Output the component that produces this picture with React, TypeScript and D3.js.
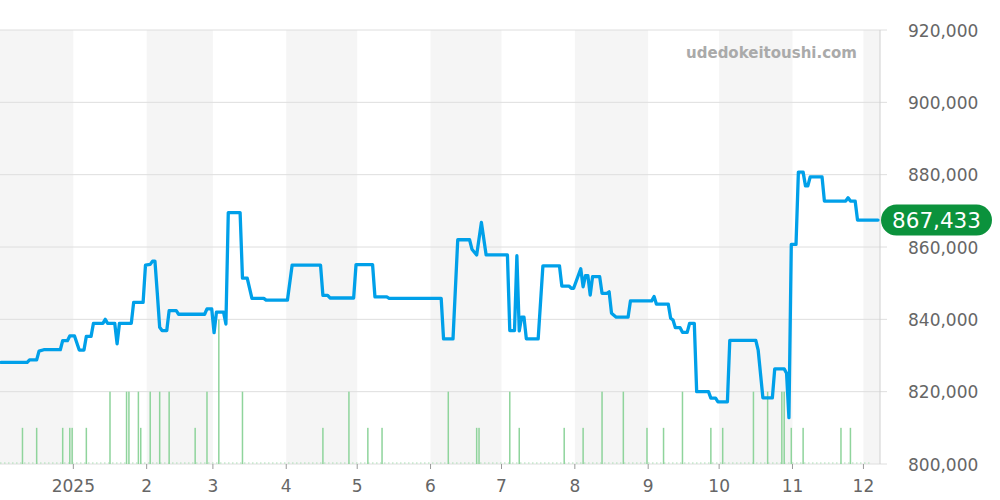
import React from "react";
import * as d3 from "d3";

const priceDates: string[] = [
  "2024-12-01","2024-12-12","2024-12-13","2024-12-16","2024-12-17","2024-12-19","2024-12-26","2024-12-27","2024-12-29","2024-12-30",
  "2025-01-01","2025-01-03","2025-01-05","2025-01-06","2025-01-08","2025-01-09","2025-01-13","2025-01-14","2025-01-15","2025-01-18",
  "2025-01-19","2025-01-20","2025-01-25","2025-01-26","2025-01-30","2025-01-31","2025-02-02","2025-02-03","2025-02-04","2025-02-05",
  "2025-02-06","2025-02-07","2025-02-09","2025-02-10","2025-02-13","2025-02-14","2025-02-25","2025-02-26","2025-02-28","2025-03-01",
  "2025-03-02","2025-03-05","2025-03-06","2025-03-07","2025-03-12","2025-03-13","2025-03-15","2025-03-17","2025-03-22","2025-03-23",
  "2025-04-01","2025-04-03","2025-04-15","2025-04-16","2025-04-18","2025-04-19","2025-04-29","2025-04-30","2025-05-07","2025-05-08",
  "2025-05-13","2025-05-14","2025-06-05","2025-06-06","2025-06-10","2025-06-12","2025-06-17","2025-06-18","2025-06-20","2025-06-22",
  "2025-06-24","2025-07-03","2025-07-04","2025-07-06","2025-07-07","2025-07-08","2025-07-09","2025-07-10","2025-07-11","2025-07-16",
  "2025-07-18","2025-07-25","2025-07-26","2025-07-29","2025-07-30","2025-07-31","2025-08-03","2025-08-04","2025-08-05","2025-08-06",
  "2025-08-07","2025-08-08","2025-08-11","2025-08-12","2025-08-14","2025-08-15","2025-08-16","2025-08-18","2025-08-23","2025-08-24",
  "2025-09-02","2025-09-03","2025-09-04","2025-09-09","2025-09-10","2025-09-11","2025-09-12","2025-09-14","2025-09-15","2025-09-17",
  "2025-09-18","2025-09-20","2025-09-21","2025-09-26","2025-09-27","2025-09-29","2025-09-30","2025-10-04","2025-10-05","2025-10-16",
  "2025-10-17","2025-10-19","2025-10-23","2025-10-24","2025-10-28","2025-10-29","2025-10-30","2025-10-31","2025-11-02","2025-11-03",
  "2025-11-05","2025-11-06","2025-11-07","2025-11-08","2025-11-13","2025-11-14","2025-11-23","2025-11-24","2025-11-25","2025-11-27",
  "2025-11-28","2025-12-07",
];

const priceValues: number[] = [
  828100,828100,828800,828800,831200,831600,831600,834100,834100,835400,
  835400,831500,831500,835300,835300,838900,838900,840000,838900,838900,
  833200,838900,838900,844700,844700,855000,855200,856100,856100,847200,
  837800,836900,836900,842400,842400,841400,841400,842900,842900,836300,
  842000,842000,838700,869500,869500,851400,851400,845800,845800,845300,
  845300,855000,855000,846600,846600,845900,845900,855100,855100,846200,
  846200,845800,845800,834600,834600,862000,862000,859400,857800,866800,
  857800,857800,836900,836900,857600,836800,840600,840600,834600,834600,
  854800,854800,849200,849200,848600,848600,854000,849000,852100,852100,
  846700,851800,851800,847200,847200,847600,841700,840600,840600,845100,
  845100,846300,844200,844200,840300,839800,837700,837700,836400,836400,
  838900,838900,820000,820000,818200,818200,817200,817200,834200,834200,
  831500,818300,818300,826300,826300,825100,812800,860700,860700,880700,
  880700,876900,876900,879400,879400,872700,872700,873600,872700,872700,
  867433,867433,
];

const volumeDates: string[] = [
  "2024-12-10","2024-12-16","2024-12-27","2024-12-30","2024-12-31","2025-01-06","2025-01-16","2025-01-23","2025-01-24","2025-01-28",
  "2025-01-29","2025-02-02","2025-02-06","2025-02-10","2025-02-21","2025-02-26","2025-03-03","2025-03-13","2025-04-16","2025-04-27",
  "2025-05-05","2025-05-11","2025-06-08","2025-06-20","2025-06-21","2025-07-04","2025-07-08","2025-07-27","2025-08-04","2025-08-12",
  "2025-08-21","2025-08-31","2025-09-07","2025-09-15","2025-09-27","2025-10-02","2025-10-15","2025-10-21","2025-10-27","2025-10-28",
  "2025-10-31","2025-11-05","2025-11-21","2025-11-25",
];
const volumeValues: number[] = [
  1,1,1,1,1,1,2,2,2,2,
  1,2,2,2,1,2,4,2,1,2,
  1,1,2,1,1,2,1,1,1,2,
  2,1,1,2,1,1,2,2,2,2,
  1,1,1,1,
];

const yTicks: number[] = [800000, 820000, 840000, 860000, 880000, 900000, 920000];
const monthTicks: string[] = ["2025-01-01","2025-02-01","2025-03-01","2025-04-01","2025-05-01","2025-06-01","2025-07-01","2025-08-01","2025-09-01","2025-10-01","2025-11-01","2025-12-01"];
const monthLabels: string[] = ["2025","2","3","4","5","6","7","8","9","10","11","12"];
const bandStarts: string[] = ["2024-12-01","2025-02-01","2025-04-01","2025-06-01","2025-08-01","2025-10-01","2025-12-01"];
const bandEnds: string[] = ["2025-01-01","2025-03-01","2025-05-01","2025-07-01","2025-09-01","2025-11-01","2025-12-08"];
const lastLabel = "867,433";
const watermark = "udedokeitoushi.com";

const parse = d3.timeParse("%Y-%m-%d");
// data points are plotted at midday of their date
const parseMid = (s: string) => d3.timeHour.offset(parse(s)!, 12);

export default function App() {
  const W = 1000, H = 500;
  const left = 0, right = 880, top = 30, bottom = 464;
  const x = d3.scaleTime().domain([parse("2024-12-01")!, parse("2025-12-08")!]).range([left, right]);
  const y = d3.scaleLinear().domain([800000, 920000]).range([bottom, top]);
  const yv = d3.scaleLinear().domain([0, 12]).range([bottom, top]);

  const pts = priceDates.map((d, i) => ({ d: parseMid(d), v: priceValues[i] }));
  const line = d3.line<{ d: Date; v: number }>().x(p => Math.min(x(p.d), right - 2)).y(p => y(p.v));
  const fmt = d3.format(",");
  const font = "'DejaVu Sans', sans-serif";
  const lastY = y(priceValues[priceValues.length - 1]);

  return (
    <svg width={W} height={H} style={{ position: "absolute", left: 0, top: 0, background: "#fff" }} fontFamily={font}>
      {bandStarts.map((s, i) => (
        <rect key={"b" + i} x={x(parse(s)!)} y={top} width={x(parse(bandEnds[i])!) - x(parse(s)!)} height={bottom - top} fill="#f5f5f5" />
      ))}
      {yTicks.map(t => (
        <line key={"g" + t} x1={left} x2={right + 7} y1={y(t)} y2={y(t)} stroke="#dedede" strokeWidth={1} />
      ))}
      <line x1={right} x2={right} y1={top} y2={bottom} stroke="#d0d0d0" strokeWidth={1} />
      {monthTicks.map((m, i) => (
        <g key={"m" + i}>
          <line x1={x(parse(m)!)} x2={x(parse(m)!)} y1={bottom} y2={bottom + 5} stroke="#999" strokeWidth={1} />
          <text x={x(parse(m)!)} y={492} textAnchor="middle" fontSize={17} fill="#666">{monthLabels[i]}</text>
        </g>
      ))}
      {yTicks.map(t => (
        <text key={"yl" + t} x={908} y={y(t) + 6.5} fontSize={17} fill="#666">{fmt(t)}</text>
      ))}
      <line x1={left} x2={872} y1={bottom - 1} y2={bottom - 1} stroke="#a8dfb2" strokeWidth={1} strokeDasharray="1.5,2.5" />
      {volumeDates.map((d, i) => (
        <rect key={"v" + i} x={x(parseMid(d)) - 0.75} y={yv(volumeValues[i])} width={1.5} height={bottom - yv(volumeValues[i])} fill="#8fd49c" />
      ))}
      <path d={line(pts) || ""} fill="none" stroke="#00a0e9" strokeWidth={3.3} strokeLinejoin="round" strokeLinecap="round" />
      <text x={857} y={58} textAnchor="end" fontSize={15} fontWeight="bold" fill="#aaaaaa">{watermark}</text>
      <rect x={881} y={lastY - 15.5} width={111} height={31} rx={15.5} ry={15.5} fill="#0b923c" />
      <text x={936.5} y={lastY + 8} textAnchor="middle" fontSize={21.5} fill="#ffffff">{lastLabel}</text>
    </svg>
  );
}
